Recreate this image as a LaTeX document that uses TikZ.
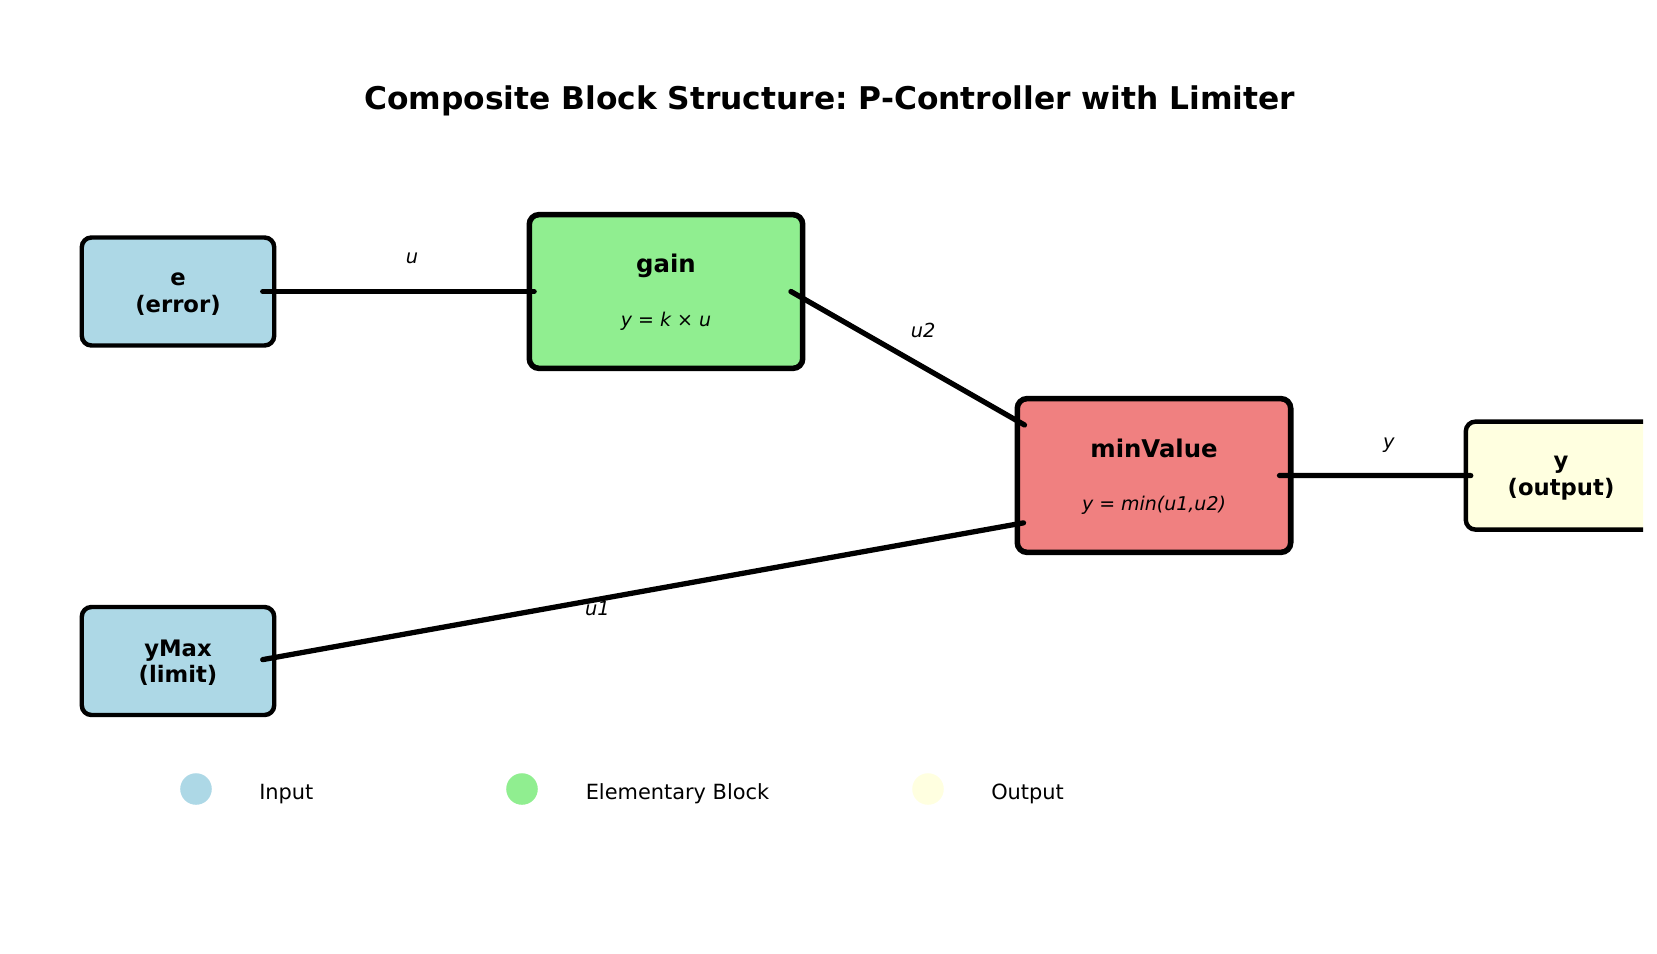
\documentclass[tikz,border=0pt]{standalone}
\usepackage{fontspec}
\setmainfont{DejaVu Sans}
\definecolor{inputblue}{HTML}{ADD8E6}
\definecolor{blockgreen}{HTML}{90EE90}
\definecolor{blockred}{HTML}{F08080}
\definecolor{outputyellow}{HTML}{FFFFE0}
\begin{document}
\frenchspacing
\begin{tikzpicture}[x=0.01in,y=-0.01in,line cap=round]
        % Styles
        \tikzstyle{port}=[draw,rounded corners=7pt,line width=3.2pt,outer sep=0pt,inner sep=0pt,
            minimum width=139pt,minimum height=78pt]
        \tikzstyle{port text}=[align=center,font=\bfseries\fontsize{16.4}{19}\selectfont]
        \tikzstyle{elementary}=[draw,rounded corners=7pt,line width=4pt,outer sep=0pt,inner sep=0pt,
            minimum width=197.5pt,minimum height=111pt]
        \tikzstyle{block name}=[font=\bfseries\fontsize{17.6}{21}\selectfont]
        \tikzstyle{block rule}=[font=\itshape\fontsize{13.7}{16}\selectfont]
        \tikzstyle{signal}=[line width=3.8pt]
        \tikzstyle{signal name}=[font=\itshape\fontsize{14}{17}\selectfont]
        \tikzstyle{legend text}=[anchor=west,inner sep=0pt,font=\fontsize{15.1}{18}\selectfont]
        %frame
        \useasboundingbox (0,0) rectangle (1657,953);
        \clip (0,0) rectangle (1643,953);
        %title
        \node[font=\bfseries\fontsize{22.6}{27}\selectfont] (title) at (829.6,100.4)
            {Composite Block Structure: P-Controller with Limiter};
        %blocks
        \node[port,fill=inputblue] (error) at (178,291.5) {};
        \node[port,fill=inputblue] (limit) at (178,661) {};
        \node[elementary,fill=blockgreen] (gain) at (666,291.5) {};
        \node[elementary,fill=blockred] (min value) at (1154,475.5) {};
        \node[port,fill=outputyellow] (output) at (1562,475.6) {};
        \node[port text] (error text) at ([yshift=-1.8pt]error.center) {e\\(error)};
        \node[port text] (limit text) at ([yshift=-1.2pt]limit.center) {yMax\\(limit)};
        \node[port text] (output text) at ([yshift=-1.8pt,xshift=-0.7pt]output.center) {y\\(output)};
        \node[block name] (gain name) at ([yshift=18.5pt]gain.center) {gain};
        \node[block rule] (gain rule) at ([yshift=-21.2pt]gain.center) {y = k × u};
        \node[block name] (min name) at ([yshift=19.5pt]min value.center) {minValue};
        \node[block rule] (min rule) at ([yshift=-21.8pt]min value.center) {y = min(u1,u2)};
        %signals
        \draw[signal] ([xshift=-8.3pt]error.east) -- ([xshift=3.5pt]gain.west)
            node[signal name,pos=0.55,yshift=24.2pt] {u};
        \draw[signal] ([xshift=-8.5pt]gain.east) -- ([xshift=5.2pt,yshift=36.5pt]min value.west)
            node[signal name,pos=0.566,yshift=26.4pt] {u2};
        \draw[signal] ([xshift=-8.3pt,yshift=1pt]limit.east) -- ([xshift=4.5pt,yshift=-34.2pt]min value.west)
            node[signal name,pos=0.44,yshift=-6.7pt] {u1};
        \draw[signal] ([xshift=-8.1pt]min value.east) -- ([xshift=3.6pt]output.west)
            node[signal name,pos=0.572,yshift=21.6pt] {y};
        %legend
        \fill[inputblue] (196,789) circle (11.4pt);
        \node[legend text] (legend input) at (259,794) {Input};
        \fill[blockgreen] (522,789) circle (11.4pt);
        \node[legend text] (legend block) at (585.5,794) {Elementary Block};
        \fill[outputyellow] (928,789) circle (11.4pt);
        \node[legend text] (legend output) at (991,794) {Output};
    \end{tikzpicture}
\end{document}
